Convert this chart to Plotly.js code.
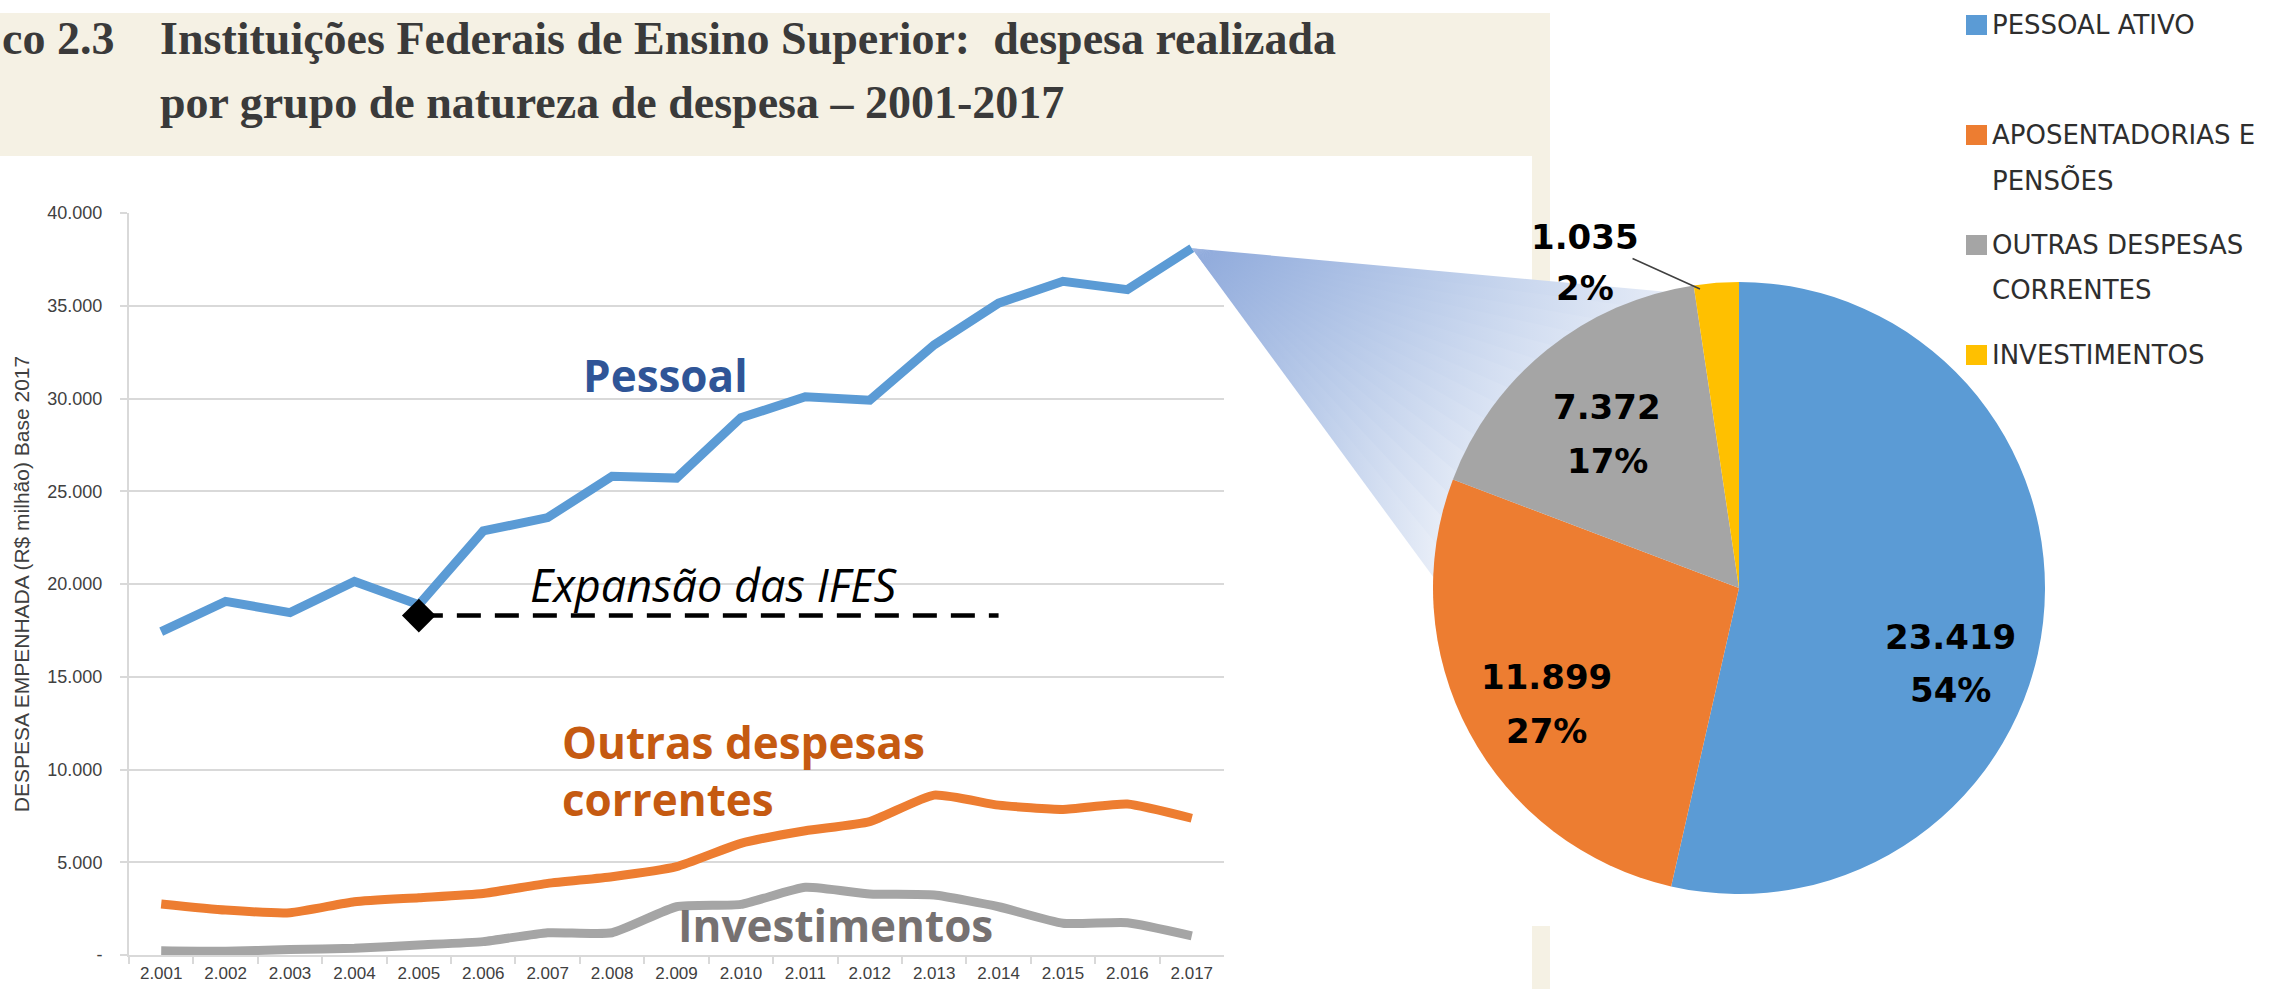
<!DOCTYPE html>
<html>
<head>
<meta charset="utf-8">
<script src="https://cdn.plot.ly/plotly-3.0.1.min.js"></script>
<style>
html,body{margin:0;padding:0;background:#ffffff;}
#chart{width:2289px;height:989px;}
</style>
</head>
<body>
<div id="chart"></div>
<script>
// ---------------- DATA ----------------
const years = ['2.001','2.002','2.003','2.004','2.005','2.006','2.007','2.008','2.009','2.010','2.011','2.012','2.013','2.014','2.015','2.016','2.017'];
const pessoal = [17430,19060,18460,20140,18880,22860,23580,25810,25710,28960,30090,29910,32890,35140,36320,35870,38100];
const outrasDespesas = [2750,2420,2280,2870,3090,3320,3860,4220,4760,6020,6700,7190,8620,8080,7850,8140,7372];
const investimentos = [230,200,300,360,540,720,1200,1200,2600,2730,3650,3290,3230,2600,1710,1740,1035];
const expansaoX = ['2.005','2.014'];
const expansaoY = [18300,18300];
const yTickVals = [0,5000,10000,15000,20000,25000,30000,35000,40000];
const yTickText = ['-','5.000','10.000','15.000','20.000','25.000','30.000','35.000','40.000'];
const pieLabels = ['PESSOAL ATIVO','APOSENTADORIAS E\nPENSÕES','OUTRAS DESPESAS\nCORRENTES','INVESTIMENTOS'];
const pieValues = [23419,11899,7372,1035];
const seriesNames = ['Pessoal','Outras despesas<br>correntes','Investimentos'];
const yTitle = 'DESPESA EMPENHADA (R$ milhão) Base 2017';
const titleNumber = 'co 2.3';
const titleLine1 = 'Instituições Federais de Ensino Superior:\u00A0 despesa realizada';
const titleLine2 = 'por grupo de natureza de despesa – 2001-2017';
const expansaoLabel = 'Expansão das IFES';

// ---------------- LAYOUT HELPERS ----------------
const W = 2289, H = 989;
const PX = x => x / W;
const PY = y => 1 - y / H;
const box = {l:129, r:1224, t:213, b:955};
const yMax = 40000;
const cBlue = '#5B9BD5', cOrange = '#ED7D31', cGray = '#A5A5A5', cYellow = '#FFC000';
const pieColors = [cBlue, cOrange, cGray, cYellow];
const beige = '#F5F1E4';
const pieCenter = [1739, 588], pieR = 306;

function fmtThousands(v){ return String(Math.round(v)).replace(/\B(?=(\d{3})+(?!\d))/g,'.'); }

// ---------------- TRACES ----------------
const lineCommon = {type:'scatter', mode:'lines', xaxis:'x', yaxis:'y', hoverinfo:'skip', showlegend:false};
const traces = [
  Object.assign({}, lineCommon, {x:years, y:investimentos, name:'Investimentos', line:{color:cGray, width:9, shape:'spline', smoothing:0.5}}),
  Object.assign({}, lineCommon, {x:years, y:outrasDespesas, name:'Outras despesas correntes', line:{color:cOrange, width:9, shape:'spline', smoothing:0.5}}),
  Object.assign({}, lineCommon, {x:years, y:pessoal, name:'Pessoal', line:{color:cBlue, width:9}}),
  Object.assign({}, lineCommon, {x:expansaoX, y:expansaoY, name:'Expansão', line:{color:'#000', width:4.5, dash:'24px,14px'}}),
  {type:'scatter', mode:'markers', xaxis:'x', yaxis:'y', x:[expansaoX[0]], y:[expansaoY[0]], hoverinfo:'skip', showlegend:false,
   marker:{symbol:'diamond', size:26, color:'#000'}}
];

// callout fan (decorative gradient from last Pessoal point towards the pie)
const apexX = box.l + (years.length - 0.5) * (box.r - box.l) / years.length;
const apexY = box.b - pessoal[pessoal.length-1] / yMax * (box.b - box.t);
const fanU = [1712, 296], fanL = [1445, 593];
const fanN = 16, fanWhite = 640;
for (let k = 0; k < fanN; k++) {
  const t0 = k / fanN, t1 = Math.min(1, (k + 1.7) / fanN), tm = (t0 + t1) / 2;
  const P = t => [fanU[0] + (fanL[0]-fanU[0])*t, fanU[1] + (fanL[1]-fanU[1])*t];
  const p0 = P(t0), p1 = P(t1), pm = P(tm);
  const dx = pm[0]-apexX, dy = pm[1]-apexY, len = Math.hypot(dx,dy);
  const ux = dx/len, uy = dy/len;
  const stop = apexX + fanWhite * ux / (ux + uy);
  traces.push({type:'scatter', mode:'lines', xaxis:'x2', yaxis:'y2', hoverinfo:'skip', showlegend:false,
    x:[apexX, p0[0], p1[0], apexX], y:[apexY, p0[1], p1[1], apexY],
    line:{width:0}, fill:'toself',
    fillgradient:{type:'horizontal', start:apexX, stop:stop,
      colorscale:[[0,'#8EA9DB'],[0.45,'#BCCDEA'],[1,'#F6F8FC']]}});
}

traces.push({
  type:'pie', labels:pieLabels.map(s=>s.replace('\n',' ')), values:pieValues, sort:false, direction:'clockwise', rotation:0,
  domain:{x:[PX(pieCenter[0]-pieR), PX(pieCenter[0]+pieR)], y:[PY(pieCenter[1]+pieR), PY(pieCenter[1]-pieR)]},
  marker:{colors:pieColors, line:{width:0}},
  textinfo:'none',
  hoverinfo:'skip', showlegend:false
});

// ---------------- ANNOTATIONS ----------------
const ann = [];
const titleFont = {family:'Liberation Serif, DejaVu Serif, serif', size:46, color:'#3A3A3A', weight:'bold'};
ann.push({xref:'paper', yref:'paper', x:PX(0), y:PY(38), xanchor:'left', yanchor:'middle', showarrow:false, text:titleNumber, font:titleFont});
ann.push({xref:'paper', yref:'paper', x:PX(158), y:PY(38), xanchor:'left', yanchor:'middle', showarrow:false, text:titleLine1, font:titleFont});
ann.push({xref:'paper', yref:'paper', x:PX(158), y:PY(103), xanchor:'left', yanchor:'middle', showarrow:false, text:titleLine2, font:titleFont});

const seriesFont = {family:'Open Sans', size:44, weight:'bold'};
ann.push({xref:'paper', yref:'paper', x:PX(665), y:PY(375), xanchor:'center', yanchor:'middle', showarrow:false, text:seriesNames[0], font:Object.assign({}, seriesFont, {color:'#2F5597'})});
ann.push({xref:'paper', yref:'paper', x:PX(560), y:PY(770), xanchor:'left', yanchor:'middle', align:'left', showarrow:false, text:seriesNames[1], font:Object.assign({}, seriesFont, {color:'#C55A11'})});
ann.push({xref:'paper', yref:'paper', x:PX(835), y:PY(925), xanchor:'center', yanchor:'middle', showarrow:false, text:seriesNames[2], font:Object.assign({}, seriesFont, {color:'#767171'})});
ann.push({xref:'paper', yref:'paper', x:PX(714), y:PY(584), xanchor:'center', yanchor:'middle', showarrow:false, text:expansaoLabel, font:{family:'Open Sans', size:45, style:'italic', color:'#000'}});

// pie slice labels (value + share), placed like the reference
const pieTotal = pieValues.reduce((a,b)=>a+b,0);
const pieLabelFont = {family:'DejaVu Sans', size:34, color:'#000', weight:'bold'};
const pieLabelPos = [[1950, 637, 690], [1546, 677, 731], [1607, 407, 461], [1585, 237, 288]];
pieValues.forEach((v, i) => {
  const p = pieLabelPos[i];
  const a1 = {xref:'paper', yref:'paper', x:PX(p[0]), y:PY(p[1]), xanchor:'center', yanchor:'middle', showarrow:false,
    text:fmtThousands(v), font:pieLabelFont};
  if (i === 3) {
    Object.assign(a1, {x:PX(1700), y:PY(289), ax:p[0]-1700, ay:p[1]-289, showarrow:true, arrowhead:0, arrowwidth:1.5, arrowcolor:'#404040', standoff:0});
  }
  ann.push(a1);
  ann.push({xref:'paper', yref:'paper', x:PX(p[0]), y:PY(p[2]), xanchor:'center', yanchor:'middle', showarrow:false,
    text:Math.round(v/pieTotal*100) + '%', font:pieLabelFont});
});

// legend (right side)
const shapes = [];
const legY0 = 25, legStep = 110, legLine = 45;
pieLabels.forEach((lab, i) => {
  const yc = legY0 + i * legStep;
  shapes.push({type:'rect', xref:'paper', yref:'paper', x0:PX(1966), x1:PX(1987), y0:PY(yc+10), y1:PY(yc-10), fillcolor:pieColors[i], line:{width:0}});
  lab.split('\n').forEach((ln, j) => {
    ann.push({xref:'paper', yref:'paper', x:PX(1990), y:PY(yc + j*legLine), xanchor:'left', yanchor:'middle', showarrow:false, text:ln,
      font:{family:'DejaVu Sans', size:26, color:'#2E2E2E'}});
  });
});

// background panels
shapes.unshift(
  {type:'rect', xref:'paper', yref:'paper', layer:'below', x0:PX(0), x1:PX(1550), y0:PY(156), y1:PY(13), fillcolor:beige, line:{width:0}},
  {type:'rect', xref:'paper', yref:'paper', layer:'below', x0:PX(1532), x1:PX(1550), y0:PY(282), y1:PY(156), fillcolor:beige, line:{width:0}},
  {type:'rect', xref:'paper', yref:'paper', layer:'below', x0:PX(1532), x1:PX(1550), y0:PY(989), y1:PY(926), fillcolor:beige, line:{width:0}}
);

const tickFamily = 'Liberation Sans Narrow, Liberation Sans, Arial';
const layout = {
  width:W, height:H, margin:{l:0, r:0, t:0, b:0},
  paper_bgcolor:'#ffffff', plot_bgcolor:'rgba(0,0,0,0)',
  separators:',.',
  showlegend:false,
  font:{family:'Liberation Sans, Arial, sans-serif', color:'#404040'},
  xaxis:{domain:[PX(box.l), PX(box.r)], type:'category', categoryorder:'array', categoryarray:years, range:[-0.5, years.length-0.5],
    showline:true, linecolor:'#D9D9D9', linewidth:2, showgrid:false, zeroline:false,
    ticks:'outside', tickson:'boundaries', ticklen:7, tickwidth:2, tickcolor:'#D9D9D9', ticklabelstandoff:2,
    tickfont:{family:tickFamily, size:17, color:'#404040'}, fixedrange:true},
  yaxis:{domain:[PY(box.b), PY(box.t)], range:[0, yMax], tickmode:'array', tickvals:yTickVals, ticktext:yTickText,
    showline:true, linecolor:'#D9D9D9', linewidth:2, showgrid:true, gridcolor:'#D9D9D9', gridwidth:2, zeroline:false,
    ticks:'outside', ticklen:7, tickwidth:2, tickcolor:'#D9D9D9', ticklabelstandoff:14,
    tickfont:{family:tickFamily, size:18, color:'#404040'},
    title:{text:yTitle, standoff:12, font:{family:tickFamily, size:21, color:'#404040'}}, fixedrange:true},
  xaxis2:{domain:[0,1], range:[0,W], visible:false, fixedrange:true},
  yaxis2:{domain:[0,1], range:[H,0], visible:false, fixedrange:true},
  annotations:ann,
  shapes:shapes
};

Plotly.newPlot('chart', traces, layout, {displayModeBar:false, staticPlot:true});
</script>
</body>
</html>
